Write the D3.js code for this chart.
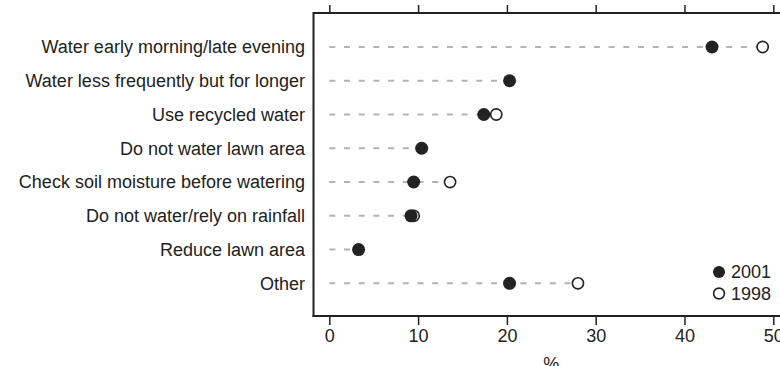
<!DOCTYPE html>
<html>
<head>
<meta charset="utf-8">
<script src="https://cdn.jsdelivr.net/npm/d3@7"></script>
<style>
  html, body { margin: 0; padding: 0; background: #fff; }
  svg { display: block; font-family: "Liberation Sans", Arial, sans-serif; }
</style>
</head>
<body>
<div id="chart"></div>
<script>
// ── Data ──
const categories = [
  "Water early morning/late evening",
  "Water less frequently but for longer",
  "Use recycled water",
  "Do not water lawn area",
  "Check soil moisture before watering",
  "Do not water/rely on rainfall",
  "Reduce lawn area",
  "Other",
];
const values2001 = [43.1, 20.3, 17.4, 10.4, 9.5, 9.2, 3.3, 20.3];
const values1998 = [48.8, null, 18.8, null, 13.6, 9.5, null, 28.0];
const xTicks = [0, 10, 20, 30, 40, 50];
const seriesNames = ["2001", "1998"];

// ── Layout ──
const W = 780, H = 366;
const box = { l: 313.5, t: 13, b: 316 };
const ink = "#222";

const svg = d3.select("#chart").append("svg")
  .attr("width", W).attr("height", H);

const x = d3.scaleLinear().domain([0, 50]).range([329.3, 773.3]);
const y = d3.scalePoint().domain(categories).range([47, 283.3]);

const rows = categories.map((c, i) => ({ cat: c, v01: values2001[i], v98: values1998[i] }));

// ── Frame ──
svg.append("line")
  .attr("x1", box.l).attr("x2", W + 5).attr("y1", box.t).attr("y2", box.t)
  .attr("stroke", ink).attr("stroke-width", 2);
svg.append("line")
  .attr("x1", box.l).attr("x2", box.l).attr("y1", box.t - 1).attr("y2", box.b + 1)
  .attr("stroke", ink).attr("stroke-width", 2);

// bottom axis
const xAxisB = svg.append("g")
  .attr("transform", `translate(0,${box.b})`)
  .call(d3.axisBottom(x).tickValues(xTicks).tickSize(9).tickPadding(4).tickSizeOuter(0));
xAxisB.select(".domain").remove();
xAxisB.append("line")
  .attr("x1", box.l - 1).attr("x2", W + 5)
  .attr("stroke", ink).attr("stroke-width", 2);
xAxisB.selectAll(".tick line").attr("stroke", ink).attr("stroke-width", 1.5);
xAxisB.selectAll(".tick text")
  .attr("fill", ink).style("font-size", "18px")
  .style("font-family", "Liberation Sans, Arial, sans-serif");

// top ticks only
const xAxisT = svg.append("g")
  .attr("transform", `translate(0,${box.t})`)
  .call(d3.axisTop(x).tickValues(xTicks).tickSize(8).tickFormat(""));
xAxisT.select(".domain").remove();
xAxisT.selectAll(".tick line").attr("stroke", ink).attr("stroke-width", 1.5);

// axis title
svg.append("text")
  .attr("x", x(25)).attr("y", 370)
  .attr("text-anchor", "middle")
  .attr("fill", ink).style("font-size", "18px")
  .text("%");

// ── Category labels ──
svg.append("g").selectAll("text")
  .data(rows).join("text")
  .attr("x", 305).attr("y", d => y(d.cat))
  .attr("dy", "0.35em")
  .attr("text-anchor", "end")
  .attr("fill", ink).style("font-size", "18px")
  .text(d => d.cat);

// ── Dashed leader lines ──
svg.append("g").selectAll("line")
  .data(rows).join("line")
  .attr("x1", x(0))
  .attr("x2", d => x(Math.max(d.v01, d.v98 ?? 0)))
  .attr("y1", d => y(d.cat)).attr("y2", d => y(d.cat))
  .attr("stroke", "#b3b3b3").attr("stroke-width", 2)
  .attr("stroke-dasharray", "6,8.7");

// ── Points: 1998 open (under), 2001 filled (over) ──
svg.append("g").selectAll("circle")
  .data(rows.filter(d => d.v98 != null)).join("circle")
  .attr("cx", d => x(d.v98)).attr("cy", d => y(d.cat))
  .attr("r", 5.6)
  .attr("fill", "#fff").attr("stroke", ink).attr("stroke-width", 1.6);

svg.append("g").selectAll("circle")
  .data(rows).join("circle")
  .attr("cx", d => x(d.v01)).attr("cy", d => y(d.cat))
  .attr("r", 6.5)
  .attr("fill", ink);

// ── Legend ──
const leg = svg.append("g").attr("transform", "translate(719,272)");
seriesNames.forEach((name, i) => {
  const g = leg.append("g").attr("transform", `translate(0,${i * 21.5})`);
  if (i === 0) {
    g.append("circle").attr("r", 6).attr("fill", ink);
  } else {
    g.append("circle").attr("r", 5.4).attr("fill", "#fff")
      .attr("stroke", ink).attr("stroke-width", 1.6);
  }
  g.append("text")
    .attr("x", 12).attr("dy", "0.35em")
    .attr("fill", ink).style("font-size", "18px")
    .text(name);
});
</script>
</body>
</html>
